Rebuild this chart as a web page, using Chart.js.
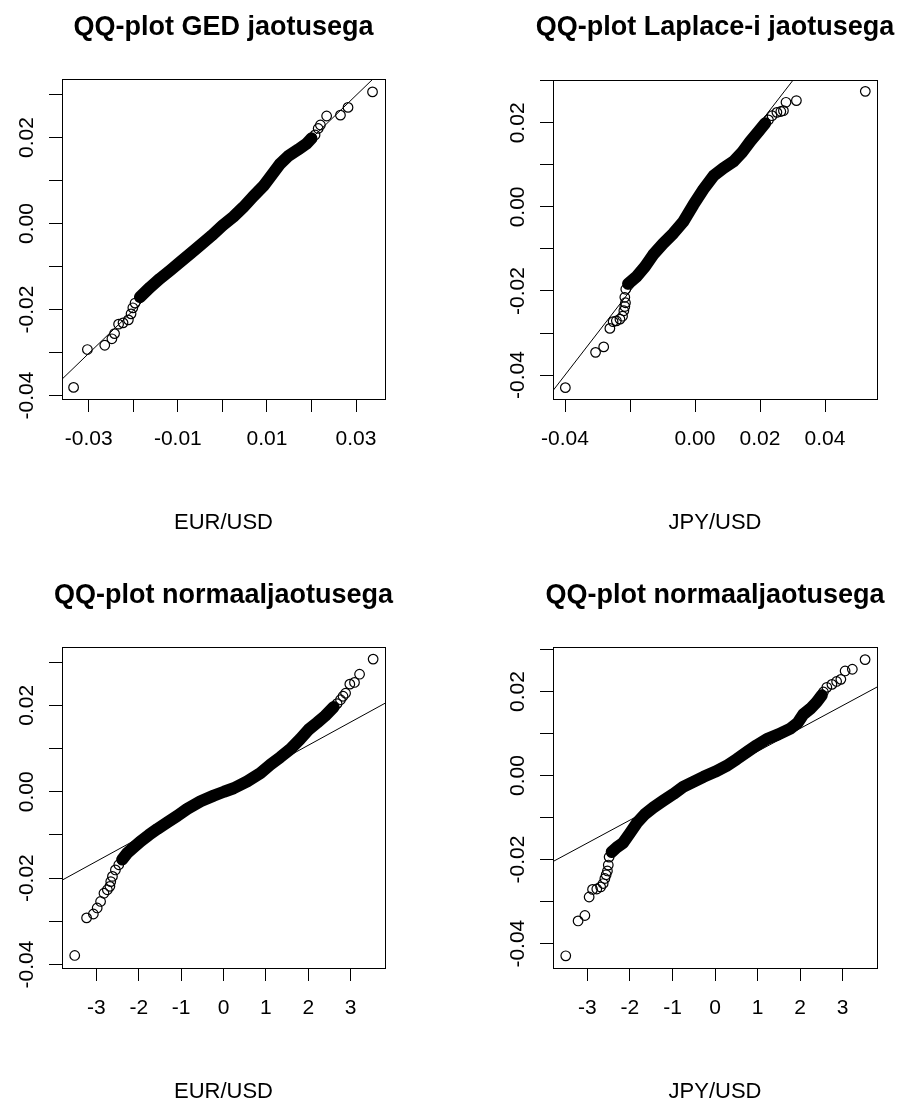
<!DOCTYPE html>
<html lang="et">
<head>
<meta charset="UTF-8">
<title>QQ-plots</title>
<script src="https://cdn.jsdelivr.net/npm/chart.js"></script>
<style>
    body { margin: 0; background: #fff; }
    #page { position: relative; width: 902px; height: 1104px; background: #fff; }
    canvas { position: absolute; }
</style>
</head>
<body>
<div id="page">
    <canvas id="gedChart" width="411" height="536" style="left:0px;top:0px"></canvas>
    <canvas id="laplaceChart" width="411" height="536" style="left:491px;top:0px"></canvas>
    <canvas id="normEurChart" width="411" height="536" style="left:0px;top:568px"></canvas>
    <canvas id="normJpyChart" width="411" height="536" style="left:491px;top:568px"></canvas>
</div>

<script>
// ---- EUR/USD vs GED quantiles ----
const gedTailX = [-0.0334, -0.0303, -0.0264, -0.0248, -0.0242, -0.0233, -0.0223, -0.0211, -0.0205, -0.0201, -0.0196,
                  0.0208, 0.0215, 0.0220, 0.0234, 0.0265, 0.0282, 0.0337];
const gedTailY = [-0.0381, -0.0293, -0.0283, -0.0268, -0.0256, -0.0234, -0.0231, -0.0224, -0.0210, -0.0196, -0.0185,
                  0.0206, 0.0221, 0.0229, 0.0250, 0.0252, 0.0270, 0.0306];
const gedBandX = [-0.0185, -0.0162, -0.0140, -0.0117, -0.0095, -0.0072, -0.0050, -0.0024, 0.0000, 0.0025,
                  0.0047, 0.0069, 0.0092, 0.0111, 0.0129, 0.0148, 0.0170, 0.0189, 0.0200];
const gedBandY = [-0.0171, -0.0148, -0.0128, -0.0109, -0.0090, -0.0070, -0.0051, -0.0028, -0.0005, 0.0016,
                  0.0038, 0.0063, 0.0087, 0.0113, 0.0138, 0.0157, 0.0172, 0.0186, 0.0198];
const gedLineX = [-0.04, 0.04];
const gedLineY = [-0.0402, 0.0398];

// ---- JPY/USD vs Laplace quantiles ----
const lapTailX = [-0.0399, -0.0306, -0.0281, -0.0262, -0.0252, -0.0242, -0.0231, -0.0223, -0.0219, -0.0216, -0.0214, -0.0216, -0.0213,
                  0.0226, 0.0237, 0.0252, 0.0264, 0.0272, 0.0280, 0.0312, 0.0524];
const lapTailY = [-0.0430, -0.0346, -0.0333, -0.0289, -0.0273, -0.0271, -0.0267, -0.0260, -0.0247, -0.0237, -0.0228, -0.0215, -0.0196,
                  0.0207, 0.0217, 0.0225, 0.0227, 0.0229, 0.0249, 0.0253, 0.0275];
const lapBandX = [-0.0206, -0.0180, -0.0154, -0.0129, -0.0098, -0.0067, -0.0036, -0.0005, 0.0026, 0.0057,
                  0.0087, 0.0118, 0.0144, 0.0170, 0.0195, 0.0216];
const lapBandY = [-0.0183, -0.0166, -0.0142, -0.0114, -0.0087, -0.0063, -0.0035, 0.0005, 0.0042, 0.0074,
                  0.0092, 0.0108, 0.0129, 0.0156, 0.0179, 0.0199];
const lapLineX = [-0.05, 0.06];
const lapLineY = [-0.05, 0.06];

// ---- EUR/USD vs normal quantiles ----
const nEurTailX = [-3.51, -3.23, -3.07, -2.98, -2.90, -2.82, -2.74, -2.68, -2.66, -2.62, -2.55, -2.47,
                   2.68, 2.76, 2.82, 2.88, 2.98, 3.09, 3.21, 3.53];
const nEurTailY = [-0.0379, -0.0292, -0.0283, -0.0269, -0.0254, -0.0235, -0.0227, -0.0219, -0.0208, -0.0196, -0.0181, -0.0169,
                   0.0204, 0.0213, 0.0221, 0.0228, 0.0249, 0.0253, 0.0272, 0.0307];
const nEurBandX = [-2.39, -2.27, -2.11, -1.96, -1.76, -1.56, -1.33, -1.09, -0.86, -0.54, -0.23, 0.01,
                   0.24, 0.56, 0.87, 1.11, 1.34, 1.58, 1.81, 2.01, 2.21, 2.40, 2.60];
const nEurBandY = [-0.0157, -0.0142, -0.0128, -0.0115, -0.0100, -0.0086, -0.0071, -0.0056, -0.0040, -0.0022, -0.0009, 0.0000,
                   0.0008, 0.0024, 0.0043, 0.0063, 0.0080, 0.0099, 0.0122, 0.0144, 0.0160, 0.0176, 0.0196];
const nEurLineX = [-4, 4];
const nEurLineY = [-0.0215, 0.0215];

// ---- JPY/USD vs normal quantiles ----
const nJpyTailX = [-3.51, -3.22, -3.06, -2.96, -2.88, -2.78, -2.69, -2.63, -2.59, -2.56, -2.53, -2.51, -2.49,
                   2.55, 2.63, 2.75, 2.86, 2.96, 3.06, 3.23, 3.53];
const nJpyTailY = [-0.0429, -0.0346, -0.0333, -0.0289, -0.0271, -0.0270, -0.0265, -0.0257, -0.0245, -0.0236, -0.0227, -0.0213, -0.0194,
                   0.0199, 0.0210, 0.0217, 0.0224, 0.0229, 0.0249, 0.0253, 0.0276];
const nJpyBandX = [-2.43, -2.31, -2.16, -2.00, -1.84, -1.65, -1.45, -1.22, -0.98, -0.75, -0.51, -0.27, 0.00,
                   0.27, 0.51, 0.75, 0.98, 1.22, 1.49, 1.76, 1.94, 2.08, 2.24, 2.39, 2.51];
const nJpyBandY = [-0.0182, -0.0171, -0.0160, -0.0137, -0.0113, -0.0092, -0.0076, -0.0060, -0.0044, -0.0027, -0.0015, -0.0003, 0.0009,
                   0.0023, 0.0039, 0.0056, 0.0072, 0.0087, 0.0098, 0.0111, 0.0125, 0.0146, 0.0159, 0.0175, 0.0191];
const nJpyLineX = [-4, 4];
const nJpyLineY = [-0.0215, 0.0221];

// ---- ticks ----
const yTicks = [-0.04, -0.03, -0.02, -0.01, 0.00, 0.01, 0.02, 0.03];
const yTickLabels = ['-0.04', '', '-0.02', '', '0.00', '', '0.02', ''];
const gedTicks = [-0.03, -0.02, -0.01, 0.00, 0.01, 0.02, 0.03];
const gedTickLabels = ['-0.03', '', '-0.01', '', '0.01', '', '0.03'];
const lapTicks = [-0.04, -0.02, 0.00, 0.02, 0.04];
const lapTickLabels = ['-0.04', '', '0.00', '0.02', '0.04'];
const normTicks = [-3, -2, -1, 0, 1, 2, 3];
const normTickLabels = ['-3', '-2', '-1', '0', '1', '2', '3'];

const FONT = "'Liberation Sans', Arial, sans-serif";
const W = 411, H = 536, XH = 60;

function toPoints(xs, ys) {
    return xs.map((x, i) => ({ x: x, y: ys[i] }));
}

// box around the plot, titles and the upright y labels (Chart.js won't rotate y ticks)
const framePlugin = {
    id: 'frame',
    afterDraw(chart, args, opts) {
        const ctx = chart.ctx;
        const a = chart.chartArea;
        const cx = (a.left + a.right) / 2;
        ctx.save();
        ctx.strokeStyle = '#000';
        ctx.lineWidth = 1;
        ctx.strokeRect(Math.round(a.left) + 0.5, Math.round(a.top) + 0.5,
                       Math.round(a.right) - Math.round(a.left), Math.round(a.bottom) - Math.round(a.top));

        ctx.fillStyle = '#000';
        ctx.textAlign = 'center';
        ctx.textBaseline = 'alphabetic';
        ctx.font = 'bold 27px ' + FONT;
        ctx.fillText(opts.title, cx, 35);
        ctx.font = '22px ' + FONT;
        ctx.fillText(opts.xTitle, cx, a.bottom + 130);

        ctx.font = '21px ' + FONT;
        const ys = chart.scales.y;
        yTicks.forEach((v, i) => {
            if (!yTickLabels[i]) return;
            ctx.save();
            ctx.translate(a.left - 29, ys.getPixelForValue(v));
            ctx.rotate(-Math.PI / 2);
            ctx.fillText(yTickLabels[i], 0, 0);
            ctx.restore();
        });
        ctx.restore();
    }
};

function makePanel(id, p) {
    const circle = {
        pointRadius: 4.8,
        pointBorderWidth: 1.2,
        pointBorderColor: '#000',
        pointBackgroundColor: 'rgba(0,0,0,0)'
    };
    return new Chart(document.getElementById(id), {
        type: 'scatter',
        data: {
            datasets: [
                { data: toPoints(p.lineX, p.lineY), showLine: true, borderColor: '#000', borderWidth: 1, pointRadius: 0 },
                Object.assign({ data: toPoints(p.bandX, p.bandY), showLine: true, borderColor: '#000', borderWidth: 12,
                    borderCapStyle: 'round', borderJoinStyle: 'round' }, circle),
                Object.assign({ data: toPoints(p.tailX, p.tailY), showLine: false, borderColor: '#000' }, circle)
            ]
        },
        options: {
            responsive: false,
            animation: false,
            events: [],
            layout: { padding: { left: 0, top: p.top, right: W - p.right, bottom: H - p.bottom - XH } },
            plugins: {
                legend: { display: false },
                tooltip: { enabled: false },
                frame: { title: p.title, xTitle: p.xTitle }
            },
            scales: {
                x: {
                    type: 'linear',
                    position: 'bottom',
                    min: p.xMin,
                    max: p.xMax,
                    afterBuildTicks: s => { s.ticks = p.xTicks.map(v => ({ value: v })); },
                    afterFit: s => { s.height = XH; },
                    grid: { drawOnChartArea: false, drawTicks: true, tickLength: 13, color: '#000', tickColor: '#000' },
                    border: { display: false },
                    ticks: {
                        autoSkip: false,
                        maxRotation: 0,
                        padding: 15,
                        color: '#000',
                        font: { family: FONT, size: 21 },
                        callback: (v, i) => p.xLabels[i]
                    }
                },
                y: {
                    type: 'linear',
                    min: p.yMin,
                    max: p.yMax,
                    afterBuildTicks: s => { s.ticks = yTicks.map(v => ({ value: v })); },
                    afterFit: s => { s.width = 62; },
                    grid: { drawOnChartArea: false, drawTicks: true, tickLength: 13, color: '#000', tickColor: '#000' },
                    border: { display: false },
                    ticks: { display: false }
                }
            }
        },
        plugins: [framePlugin]
    });
}

makePanel('gedChart', {
    title: 'QQ-plot GED jaotusega', xTitle: 'EUR/USD',
    tailX: gedTailX, tailY: gedTailY, bandX: gedBandX, bandY: gedBandY, lineX: gedLineX, lineY: gedLineY,
    xMin: -0.0360, xMax: 0.0365, yMin: -0.0408, yMax: 0.0336,
    xTicks: gedTicks, xLabels: gedTickLabels,
    top: 79, bottom: 399, right: 385
});

makePanel('laplaceChart', {
    title: 'QQ-plot Laplace-i jaotusega', xTitle: 'JPY/USD',
    tailX: lapTailX, tailY: lapTailY, bandX: lapBandX, bandY: lapBandY, lineX: lapLineX, lineY: lapLineY,
    xMin: -0.0437, xMax: 0.0560, yMin: -0.0457, yMax: 0.0302,
    xTicks: lapTicks, xLabels: lapTickLabels,
    top: 80, bottom: 399, right: 386
});

makePanel('normEurChart', {
    title: 'QQ-plot normaaljaotusega', xTitle: 'EUR/USD',
    tailX: nEurTailX, tailY: nEurTailY, bandX: nEurBandX, bandY: nEurBandY, lineX: nEurLineX, lineY: nEurLineY,
    xMin: -3.81, xMax: 3.81, yMin: -0.0408, yMax: 0.0335,
    xTicks: normTicks, xLabels: normTickLabels,
    top: 79, bottom: 400, right: 385
});

makePanel('normJpyChart', {
    title: 'QQ-plot normaaljaotusega', xTitle: 'JPY/USD',
    tailX: nJpyTailX, tailY: nJpyTailY, bandX: nJpyBandX, bandY: nJpyBandY, lineX: nJpyLineX, lineY: nJpyLineY,
    xMin: -3.81, xMax: 3.81, yMin: -0.0458, yMax: 0.0306,
    xTicks: normTicks, xLabels: normTickLabels,
    top: 79, bottom: 400, right: 386
});
</script>
</body>
</html>
